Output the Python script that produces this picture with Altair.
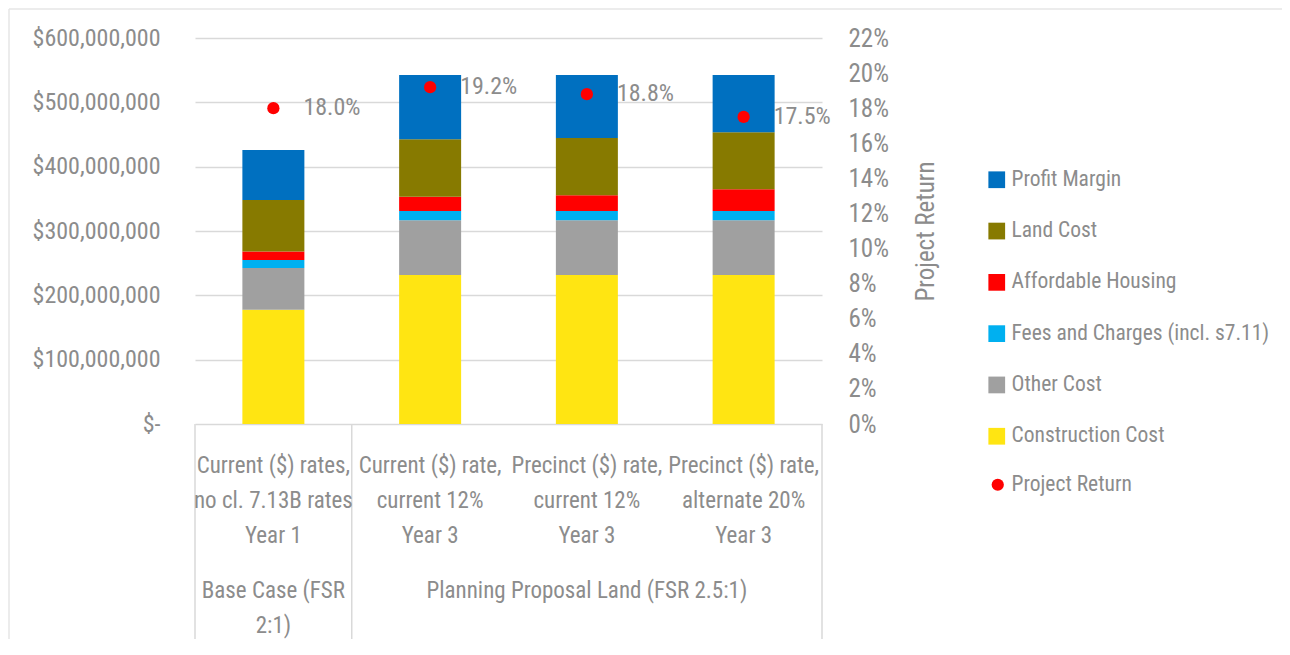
import altair as alt
import pandas as pd

# ---------------- data ----------------
categories = [
    "Current ($) rates,\nno cl. 7.13B rates\nYear 1",
    "Current ($) rate,\ncurrent 12%\nYear 3",
    "Precinct ($) rate,\ncurrent 12%\nYear 3",
    "Precinct ($) rate,\nalternate 20%\nYear 3",
]
groups = ["Base Case (FSR\n2:1)", "Planning Proposal Land (FSR 2.5:1)"]
group_sizes = [1, 3]

# values in $ millions
construction = [177.7, 231.6, 231.6, 231.6]
other_cost = [64.8, 85.0, 85.0, 85.0]
fees = [12.5, 14.4, 14.4, 14.4]
affordable = [13.0, 22.4, 24.5, 33.8]
land = [80.0, 89.1, 89.1, 88.6]
profit = [78.0, 100.0, 97.9, 89.1]
project_return = [0.180, 0.192, 0.188, 0.175]

stack_names = ["Construction Cost", "Other Cost", "Fees and Charges (incl. s7.11)",
               "Affordable Housing", "Land Cost", "Profit Margin"]
stack_values = [construction, other_cost, fees, affordable, land, profit]
stack_colors = ["#FFE512", "#A0A0A0", "#00B0F0", "#FF0000", "#877A00", "#0070C0"]

left_ticks = [0, 100e6, 200e6, 300e6, 400e6, 500e6, 600e6]
right_ticks = [0, 0.02, 0.04, 0.06, 0.08, 0.10, 0.12, 0.14, 0.16, 0.18, 0.20, 0.22]

# ---------------- tables ----------------
rows = []
for i, cat in enumerate(categories):
    for k, (name, vals) in enumerate(zip(stack_names, stack_values)):
        rows.append({"pos": i + 0.5, "series": name, "value": vals[i] * 1e6, "order": k})
bar_df = pd.DataFrame(rows)

ret_df = pd.DataFrame({
    "pos": [i + 0.5 for i in range(len(categories))],
    "ret": project_return,
    "series": ["Project Return"] * len(categories),
})
cat_df = pd.DataFrame({"pos": [i + 0.5 for i in range(len(categories))], "label": categories})

bounds = [0]
for s in group_sizes:
    bounds.append(bounds[-1] + s)
grp_df = pd.DataFrame({
    "pos": [(bounds[j] + bounds[j + 1]) / 2 for j in range(len(groups))],
    "label": groups,
})
sep_df = pd.DataFrame({"b": bounds})

# ---------------- style ----------------
FONT = "Roboto Condensed"
GREY = "#8c8c8c"
GRID = "#d9d9d9"
W, H = 627, 386
PAD = {"left": 187, "top": 30, "right": 460, "bottom": 215}

xscale = alt.Scale(domain=[0, len(categories)], nice=False, zero=False, padding=0)

right_axis = alt.Axis(orient="right", values=right_ticks, format=".0%", grid=False,
                      domain=False, ticks=False, labelPadding=26, labelFontSize=25,
                      labelColor=GREY, labelOverlap=False, labelBound=False,
                      title="Project Return", titleAngle=270,
                      titleFontSize=25, titleFontWeight="normal", titleColor=GREY,
                      titlePadding=50)
ryscale = alt.Scale(domain=[0, 0.22], nice=False)

bars = alt.Chart(bar_df).mark_bar(size=62).encode(
    x=alt.X("pos:Q", scale=xscale, axis=None),
    y=alt.Y("value:Q", stack="zero",
            scale=alt.Scale(domain=[0, 600e6], nice=False),
            axis=alt.Axis(values=left_ticks, title=None, grid=True, domain=False, ticks=False,
                          labelPadding=35, labelFontSize=24, labelColor=GREY,
                          labelOverlap=False, labelLimit=300,
                          gridColor=GRID, gridWidth=1.5,
                          labelExpr="datum.value == 0 ? '$-\u00a0\u00a0' : '$' + format(datum.value, ',')")),
    color=alt.Color("series:N",
                    scale=alt.Scale(domain=list(reversed(stack_names)), range=list(reversed(stack_colors))),
                    legend=alt.Legend(orient="none", legendX=791, legendY=131, title=None,
                                      symbolType="square", symbolSize=280, symbolStrokeWidth=0,
                                      labelFontSize=21.5, labelColor=GREY, rowPadding=28.3,
                                      labelOffset=4, padding=0, labelLimit=400)),
    order=alt.Order("order:Q", sort="ascending"),
)

seps = alt.Chart(sep_df).mark_rule(color=GRID, strokeWidth=1.5).encode(
    x=alt.X("b:Q", scale=xscale, axis=None),
    y=alt.value(H),
    y2=alt.value(605),
)

# faint outer chart border (top and left edges, as in the reference)
frame_top = alt.Chart(sep_df.head(1)).mark_rule(color="#e6e6e6", strokeWidth=1.5).encode(
    x=alt.value(-PAD["left"] + 1), x2=alt.value(W + PAD["right"]), y=alt.value(-PAD["top"] + 1)
)
frame_left = alt.Chart(sep_df.head(1)).mark_rule(color="#e6e6e6", strokeWidth=1.5).encode(
    x=alt.value(-PAD["left"] + 1), y=alt.value(-PAD["top"] + 1), y2=alt.value(H + PAD["bottom"])
)

cat_text = alt.Chart(cat_df).mark_text(lineBreak="\n", lineHeight=35, baseline="top",
                                       fontSize=23, color=GREY).encode(
    x=alt.X("pos:Q", scale=xscale, axis=None),
    y=alt.value(417),
    text="label:N",
)

grp_text = alt.Chart(grp_df).mark_text(lineBreak="\n", lineHeight=35, baseline="top",
                                       fontSize=23, color=GREY).encode(
    x=alt.X("pos:Q", scale=xscale, axis=None),
    y=alt.value(542),
    text="label:N",
)

pts = alt.Chart(ret_df).mark_point(filled=True, size=150, color="#FF0000", opacity=1).encode(
    x=alt.X("pos:Q", scale=xscale, axis=None),
    y=alt.Y("ret:Q", scale=ryscale, axis=right_axis),
    shape=alt.Shape("series:N", scale=alt.Scale(range=["circle"]),
                    legend=alt.Legend(orient="none", legendX=792, legendY=436, title=None,
                                      symbolSize=150, symbolFillColor="#FF0000",
                                      symbolStrokeWidth=0, labelFontSize=21.5, labelColor=GREY,
                                      labelOffset=3, padding=0, labelLimit=400)),
)

lbl = alt.Chart(ret_df).mark_text(align="left", baseline="middle", dx=30, fontSize=24,
                                  color=GREY).encode(
    x=alt.X("pos:Q", scale=xscale, axis=None),
    y=alt.Y("ret:Q", scale=ryscale, axis=right_axis),
    text=alt.Text("ret:Q", format=".1%"),
)

left = alt.layer(frame_top, frame_left, bars, seps, cat_text, grp_text)
right = alt.layer(pts, lbl)

chart = alt.layer(left, right).resolve_scale(y="independent").properties(
    width=W, height=H,
    padding=PAD,
    autosize=alt.AutoSizeParams(type="none"),
    background="white",
).configure(font=FONT).configure_view(stroke=None)

chart.save("out.html", embed_options={"renderer": "svg", "actions": False})
